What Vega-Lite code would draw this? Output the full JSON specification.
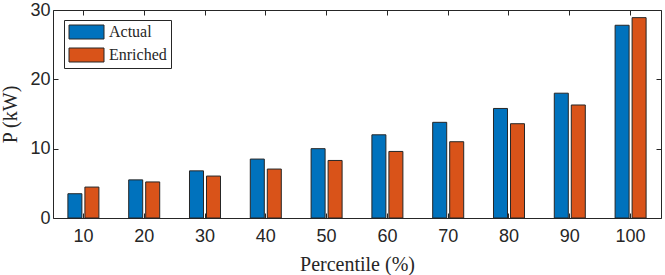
{
  "$schema": "https://vega.github.io/schema/vega-lite/v6.json",
  "width": 608,
  "height": 208,
  "autosize": {"type": "none"},
  "padding": {"left": 53, "top": 10, "right": 4, "bottom": 57},
  "background": "white",
  "config": {
    "view": {"stroke": "#262626", "strokeWidth": 1},
    "axis": {
      "domain": false,
      "grid": false,
      "labelFont": "Liberation Sans",
      "labelFontSize": 18,
      "labelColor": "#262626",
      "tickColor": "#262626",
      "tickSize": -5,
      "titleFont": "Liberation Serif",
      "titleFontSize": 20,
      "titleFontWeight": "normal",
      "titleColor": "#262626"
    }
  },
  "data": {
    "values": [
      {"Percentile": "10", "Series": "Actual", "P": 3.5},
      {"Percentile": "10", "Series": "Enriched", "P": 4.46},
      {"Percentile": "20", "Series": "Actual", "P": 5.5},
      {"Percentile": "20", "Series": "Enriched", "P": 5.2},
      {"Percentile": "30", "Series": "Actual", "P": 6.8},
      {"Percentile": "30", "Series": "Enriched", "P": 6.05},
      {"Percentile": "40", "Series": "Actual", "P": 8.5},
      {"Percentile": "40", "Series": "Enriched", "P": 7.06},
      {"Percentile": "50", "Series": "Actual", "P": 10.0},
      {"Percentile": "50", "Series": "Enriched", "P": 8.3},
      {"Percentile": "60", "Series": "Actual", "P": 12.0},
      {"Percentile": "60", "Series": "Enriched", "P": 9.6},
      {"Percentile": "70", "Series": "Actual", "P": 13.8},
      {"Percentile": "70", "Series": "Enriched", "P": 11.0},
      {"Percentile": "80", "Series": "Actual", "P": 15.8},
      {"Percentile": "80", "Series": "Enriched", "P": 13.6},
      {"Percentile": "90", "Series": "Actual", "P": 18.0},
      {"Percentile": "90", "Series": "Enriched", "P": 16.3},
      {"Percentile": "100", "Series": "Actual", "P": 27.8},
      {"Percentile": "100", "Series": "Enriched", "P": 28.9}
    ]
  },
  "layer": [
    {
      "mark": {"type": "bar", "stroke": "#262626", "strokeWidth": 1},
      "encoding": {
        "x": {
          "field": "Percentile",
          "type": "ordinal",
          "sort": null,
          "scale": {"paddingInner": 0, "paddingOuter": 0},
          "axis": {"title": "Percentile (%)", "labelAngle": 0, "labelPadding": 14, "titlePadding": 9}
        },
        "xOffset": {
          "field": "Series",
          "type": "nominal",
          "scale": {"paddingInner": 0.176, "paddingOuter": 0.876}
        },
        "y": {
          "field": "P",
          "type": "quantitative",
          "scale": {"domain": [0, 30], "nice": false},
          "axis": {"title": "P (kW)", "values": [0, 10, 20, 30], "labelPadding": 8, "titlePadding": 9}
        },
        "color": {
          "field": "Series",
          "type": "nominal",
          "scale": {"domain": ["Actual", "Enriched"], "range": ["#0072BD", "#D95319"]},
          "legend": {
            "title": null,
            "orient": "none",
            "legendX": 11,
            "legendY": 10,
            "symbolType": "M-1,-1H4V1H-1Z",
            "symbolSize": 196,
            "symbolStrokeColor": "#262626",
            "symbolStrokeWidth": 1,
            "symbolOpacity": 1,
            "labelOffset": 25,
            "labelFont": "Liberation Serif",
            "labelFontSize": 16,
            "labelColor": "#262626",
            "rowPadding": 5,
            "padding": 4,
            "strokeColor": "#262626",
            "fillColor": "white"
          }
        }
      }
    },
    {
      "mark": {"type": "point", "opacity": 0},
      "encoding": {
        "x": {
          "field": "Percentile",
          "type": "ordinal",
          "sort": null,
          "axis": {"orient": "top", "labels": false, "title": null}
        },
        "y": {
          "field": "P",
          "type": "quantitative",
          "axis": {"orient": "right", "labels": false, "title": null, "values": [0, 10, 20, 30]}
        }
      }
    }
  ],
  "resolve": {"axis": {"x": "independent", "y": "independent"}}
}
